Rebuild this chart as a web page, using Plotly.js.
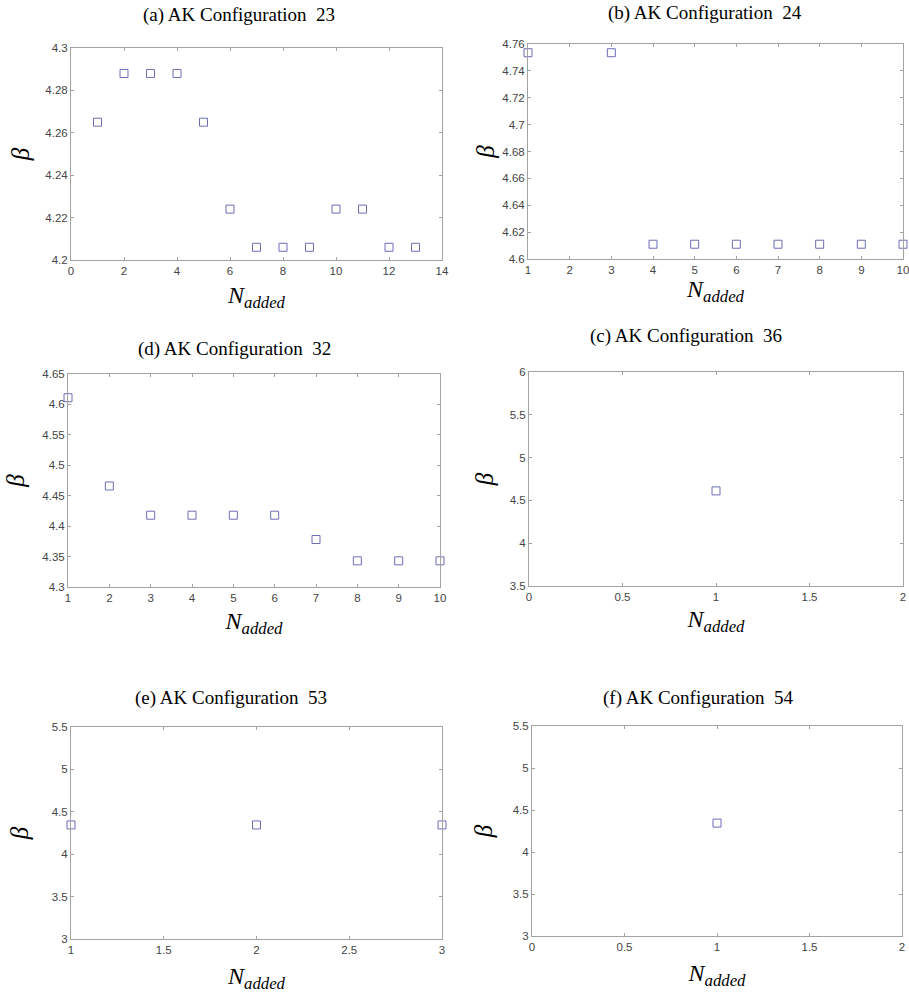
<!DOCTYPE html>
<html>
<head>
<meta charset="utf-8">
<script src="https://cdn.plot.ly/plotly-3.0.1.min.js"></script>
<style>html,body{margin:0;padding:0;background:#fff;}#chart{width:909px;height:995px;}</style>
</head>
<body>
<div id="chart"></div>
<script>
// Panel titles
const panelTitles = [
  "(a) AK Configuration\u00a0 23",
  "(b) AK Configuration\u00a0 24",
  "(d) AK Configuration\u00a0 32",
  "(c) AK Configuration\u00a0 36",
  "(e) AK Configuration\u00a0 53",
  "(f) AK Configuration\u00a0 54"
];

// (a) Configuration 23
const xA = [1, 2, 3, 4, 5, 6, 7, 8, 9, 10, 11, 12, 13];
const yA = [4.265, 4.288, 4.288, 4.288, 4.265, 4.224, 4.206, 4.206, 4.206, 4.224, 4.224, 4.206, 4.206];
// (b) Configuration 24
const xB = [1, 3, 4, 5, 6, 7, 8, 9, 10];
const yB = [4.7535, 4.7535, 4.611, 4.611, 4.611, 4.611, 4.611, 4.611, 4.611];
// (d) Configuration 32
const xD = [1, 2, 3, 4, 5, 6, 7, 8, 9, 10];
const yD = [4.611, 4.466, 4.418, 4.418, 4.418, 4.418, 4.378, 4.343, 4.343, 4.343];
// (c) Configuration 36
const xC = [1];
const yC = [4.611];
// (e) Configuration 53
const xE = [1, 2, 3];
const yE = [4.345, 4.345, 4.345];
// (f) Configuration 54
const xF = [1];
const yF = [4.344];

const xLabel = "<i>N</i><sub><i>added</i></sub>";
const yLabel = "<i>β</i>";

const markerColor = "#6d6db8";
const axisColor = "#a3a3a3";
const tickFontColor = "#454545";

const panels = [
  {x: xA, y: yA, xr: [0, 14], xd: 2, yr: [4.2, 4.3], yd: 0.02,
   dx: [71, 442], dy: [48, 260], title: [239, 15], xs: 10, ys: 8},
  {x: xB, y: yB, xr: [1, 10], xd: 1, yr: [4.6, 4.76], yd: 0.02,
   dx: [528, 903], dy: [44, 259], title: [705, 13], xs: 3, ys: 0},
  {x: xD, y: yD, xr: [1, 10], xd: 1, yr: [4.3, 4.65], yd: 0.05,
   dx: [68, 440], dy: [374, 587], title: [234, 349], xs: 9, ys: 10},
  {x: xC, y: yC, xr: [0, 2], xd: 0.5, yr: [3.5, 6], yd: 0.5,
   dx: [529, 903], dy: [372, 586], title: [686, 336], xs: 8, ys: 8},
  {x: xE, y: yE, xr: [1, 3], xd: 0.5, yr: [3, 5.5], yd: 0.5,
   dx: [71, 442], dy: [727, 939], title: [231, 698], xs: 12, ys: 15},
  {x: xF, y: yF, xr: [0, 2], xd: 0.5, yr: [3, 5.5], yd: 0.5,
   dx: [532, 902], dy: [726, 936], title: [698, 698], xs: 12, ys: 12}
];

const W = 909, H = 995;
const data = [];
const layout = {
  width: W, height: H,
  margin: {l: 0, r: 0, t: 0, b: 0},
  paper_bgcolor: "#fff", plot_bgcolor: "#fff",
  showlegend: false,
  annotations: []
};

panels.forEach((p, i) => {
  const n = i + 1;
  const xa = n === 1 ? "x" : "x" + n;
  const ya = n === 1 ? "y" : "y" + n;
  data.push({
    type: "scatter", mode: "markers",
    x: p.x, y: p.y, xaxis: xa, yaxis: ya,
    cliponaxis: false,
    marker: {symbol: "square-open", size: 8, color: markerColor, line: {width: 1, color: markerColor}}
  });
  const common = {
    showline: true, linecolor: axisColor, linewidth: 1, mirror: "ticks",
    ticks: "inside", ticklen: 3, tickcolor: axisColor, tickwidth: 1,
    showgrid: false, zeroline: false, ticklabeloverflow: "allow",
    tickfont: {family: "Liberation Sans, Arial, sans-serif", size: 11.5, color: tickFontColor}
  };
  layout[(n === 1 ? "xaxis" : "xaxis" + n)] = Object.assign({}, common, {
    domain: [p.dx[0] / W, p.dx[1] / W],
    anchor: ya, range: p.xr, dtick: p.xd, tick0: 0,
    title: {text: xLabel, standoff: p.xs,
      font: {family: "Liberation Serif, Times New Roman, serif", size: 24, color: "#000"}}
  });
  layout[(n === 1 ? "yaxis" : "yaxis" + n)] = Object.assign({}, common, {
    domain: [1 - p.dy[1] / H, 1 - p.dy[0] / H],
    anchor: xa, range: p.yr, dtick: p.yd, tick0: 0,
    title: {text: yLabel, standoff: p.ys,
      font: {family: "Liberation Serif, Times New Roman, serif", size: 25, color: "#000"}}
  });
  layout.annotations.push({
    text: panelTitles[i], xref: "paper", yref: "paper",
    x: p.title[0] / W, y: 1 - p.title[1] / H,
    xanchor: "center", yanchor: "middle", showarrow: false,
    font: {family: "Liberation Serif, Times New Roman, serif", size: 19, color: "#000"}
  });
});

Plotly.newPlot("chart", data, layout, {displayModeBar: false, staticPlot: true});
</script>
</body>
</html>
